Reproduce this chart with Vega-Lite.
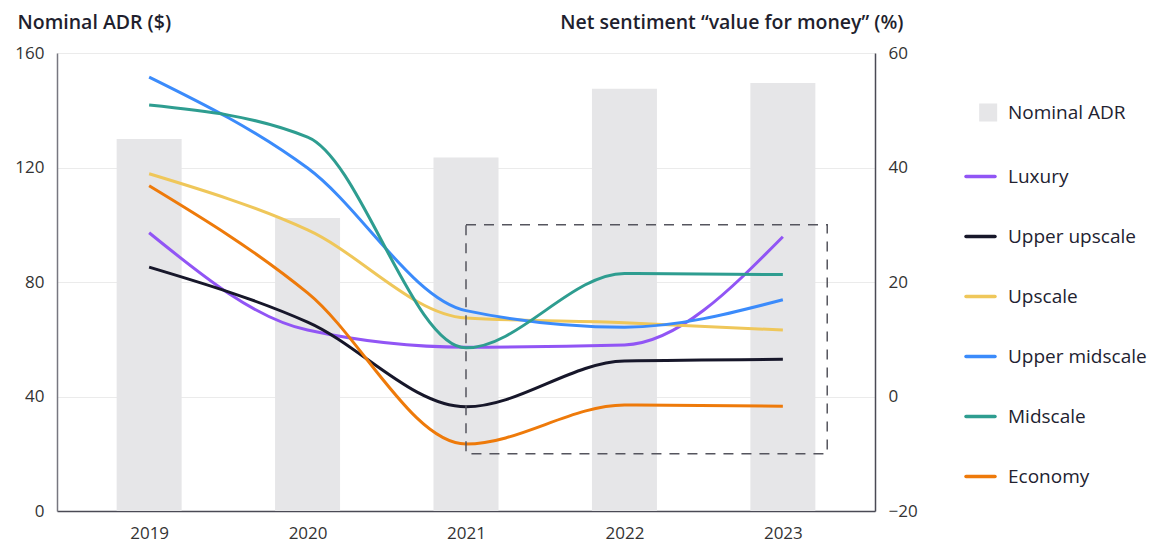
{
  "$schema": "https://vega.github.io/schema/vega-lite/v6.json",
  "autosize": {"type": "none"},
  "width": 818,
  "height": 458,
  "padding": {"left": 57, "top": 53, "right": 275, "bottom": 33},
  "background": "white",
  "config": {
    "font": "Open Sans",
    "view": {"stroke": null},
    "axis": {"labelFont": "Open Sans", "titleFont": "Open Sans", "labelFontSize": 17, "labelColor": "#333333", "titleColor": "#1f1f2e", "titleFontSize": 19.5, "titleFontWeight": 600, "ticks": false, "domainColor": "#4a4a55", "domainWidth": 1.5}
  },
  "datasets": {
    "bars": [
      {"year": 2019, "adr": 130, "series": "Nominal ADR"},
      {"year": 2020, "adr": 102.4, "series": "Nominal ADR"},
      {"year": 2021, "adr": 123.5, "series": "Nominal ADR"},
      {"year": 2022, "adr": 147.5, "series": "Nominal ADR"},
      {"year": 2023, "adr": 149.5, "series": "Nominal ADR"}
    ],
    "lines": [
      {"year": 2019, "series": "Luxury", "value": 28.6},
      {"year": 2020, "series": "Luxury", "value": 11.6},
      {"year": 2021, "series": "Luxury", "value": 8.6},
      {"year": 2022, "series": "Luxury", "value": 9.0},
      {"year": 2023, "series": "Luxury", "value": 27.9},
      {"year": 2019, "series": "Upper upscale", "value": 22.6},
      {"year": 2020, "series": "Upper upscale", "value": 13.0},
      {"year": 2021, "series": "Upper upscale", "value": -1.8},
      {"year": 2022, "series": "Upper upscale", "value": 6.2},
      {"year": 2023, "series": "Upper upscale", "value": 6.5},
      {"year": 2019, "series": "Upscale", "value": 38.9},
      {"year": 2020, "series": "Upscale", "value": 29.1},
      {"year": 2021, "series": "Upscale", "value": 13.7},
      {"year": 2022, "series": "Upscale", "value": 12.9},
      {"year": 2023, "series": "Upscale", "value": 11.6},
      {"year": 2019, "series": "Upper midscale", "value": 55.8},
      {"year": 2020, "series": "Upper midscale", "value": 39.9},
      {"year": 2021, "series": "Upper midscale", "value": 15.0},
      {"year": 2022, "series": "Upper midscale", "value": 12.1},
      {"year": 2023, "series": "Upper midscale", "value": 16.9},
      {"year": 2019, "series": "Midscale", "value": 50.9},
      {"year": 2020, "series": "Midscale", "value": 45.3},
      {"year": 2021, "series": "Midscale", "value": 8.5},
      {"year": 2022, "series": "Midscale", "value": 21.5},
      {"year": 2023, "series": "Midscale", "value": 21.3},
      {"year": 2019, "series": "Economy", "value": 36.8},
      {"year": 2020, "series": "Economy", "value": 18.1},
      {"year": 2021, "series": "Economy", "value": -8.3},
      {"year": 2022, "series": "Economy", "value": -1.5},
      {"year": 2023, "series": "Economy", "value": -1.7}
    ],
    "box": [
      {"x1": 2021, "x2": 2023.28, "y1": -10, "y2": 30}
    ]
  },
  "layer": [
    {
      "data": {"name": "bars"},
      "mark": {"type": "bar", "size": 65},
      "encoding": {
        "x": {"field": "year", "type": "quantitative", "scale": {"domain": [2018.45, 2023.55], "nice": false, "zero": false},
          "axis": {"values": [2019, 2020, 2021, 2022, 2023], "format": "d", "title": null, "grid": false, "labelPadding": 14}},
        "y": {"field": "adr", "type": "quantitative", "scale": {"domain": [0, 160], "nice": false},
          "axis": {"values": [0, 40, 80, 120, 160], "title": "Nominal ADR ($)", "titleAngle": 0, "titleAlign": "left", "titleBaseline": "alphabetic", "titleX": -40, "titleY": -25, "grid": true, "gridColor": "#ebebeb", "gridWidth": 1, "labelPadding": 13, "domainColor": "#777780"}},
        "color": {"field": "series", "type": "nominal",
          "scale": {"domain": ["Nominal ADR", "Luxury", "Upper upscale", "Upscale", "Upper midscale", "Midscale", "Economy"],
                    "range": ["#e6e6e8", "#9155f5", "#17172a", "#efc75a", "#3b8bfb", "#2e9d90", "#ee7a0a"]},
          "legend": {
            "title": null, "orient": "none", "legendX": 907, "legendY": 43,
            "labelFont": "Open Sans", "labelFontSize": 19, "labelColor": "#222230", "labelOffset": 11,
            "rowPadding": 33, "symbolSize": 841, "symbolType": "M-1,0H1", "symbolStrokeWidth": 3.5,
            "encode": {
              "symbols": {"update": {
                "shape": {"signal": "datum.value === 'Nominal ADR' ? 'M0.03,-0.5H1.03V0.5H0.03Z' : 'M-1,0H1'"},
                "size": {"value": 841},
                "fill": {"signal": "datum.value === 'Nominal ADR' ? '#e6e6e8' : 'transparent'"},
                "stroke": {"signal": "datum.value === 'Nominal ADR' ? 'transparent' : scale('color', datum.value)"},
                "strokeWidth": {"value": 3.5},
                "strokeCap": {"value": "round"},
                "opacity": {"value": 1}
              }}
            }
          }
        }
      }
    },
    {
      "layer": [
        {
          "data": {"name": "lines"},
          "mark": {"type": "line", "interpolate": "monotone", "strokeWidth": 3},
          "encoding": {
            "x": {"field": "year", "type": "quantitative"},
            "y": {"field": "value", "type": "quantitative", "scale": {"domain": [-20, 60], "nice": false},
              "axis": {"orient": "right", "values": [-20, 0, 20, 40, 60], "title": "Net sentiment \u201cvalue for money\u201d (%)", "titleAngle": 0, "titleAlign": "right", "titleBaseline": "alphabetic", "titleX": 28, "titleY": -25, "grid": false, "labelPadding": 13}},
            "color": {"field": "series", "type": "nominal"},
            "detail": {"field": "series"}
          }
        },
        {
          "data": {"name": "box"},
          "mark": {"type": "rect", "fill": null, "stroke": "#55555e", "strokeWidth": 1.5, "strokeDash": [10, 8]},
          "encoding": {
            "x": {"field": "x1", "type": "quantitative"},
            "x2": {"field": "x2"},
            "y": {"field": "y1", "type": "quantitative"},
            "y2": {"field": "y2"}
          }
        }
      ]
    }
  ],
  "resolve": {"scale": {"y": "independent"}}
}
